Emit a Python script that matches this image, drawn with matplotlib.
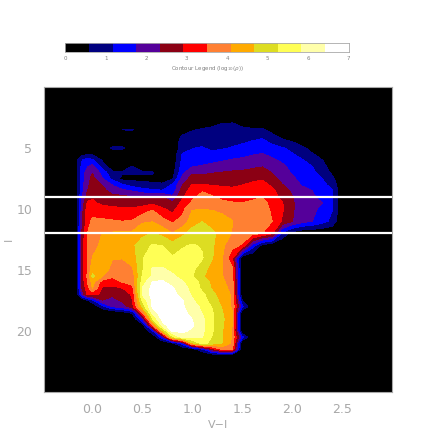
import matplotlib
matplotlib.use("Agg")
import matplotlib.pyplot as plt
import numpy as np
from matplotlib.colors import BoundaryNorm, ListedColormap

BAND_COLORS = ["#000000", "#00007f", "#0000ff", "#55009a", "#8b0014", "#ff0000",
               "#ff8033", "#ffaa00", "#dddd22", "#ffff55", "#ffffaa", "#ffffff"]
LEGEND_TICKS = [0, 1, 2, 3, 4, 5, 6, 7]
X_TICKS = [0.0, 0.5, 1.0, 1.5, 2.0, 2.5]
Y_TICKS = [5, 10, 15, 20]
CUT_LINES = [9, 12]
GREY = "#a8a8a8"

# V-I 格子（左端のみ細かい）
color_vi = [-0.2, -0.15, -0.1, -0.05, 0.0, 0.1, 0.2, 0.3, 0.4, 0.5, 0.6, 0.7, 0.8, 0.9, 1.0,
            1.1, 1.2, 1.3, 1.4, 1.5, 1.6, 1.7, 1.8, 1.9, 2.0, 2.1, 2.2, 2.3, 2.4, 2.5]
mag_i = [2.5, 3, 3.5, 4, 4.5, 5, 5.5, 6, 6.5, 7, 7.5, 8, 8.5, 9, 9.5, 10, 11, 12, 13, 14, 15, 15.5,
         16, 16.5, 17, 17.5, 18, 18.5, 19, 19.5, 20, 20.5, 21, 21.5, 22]
# log10(rho) 各行は左から、足りない右側は 0
log_rho = [
    [0],
    [0, 0, 0, 0, 0, 0, 0, 0, 0, 0, 0, 0, 0, 0, 0, 0, .4, .6, .65, .3],
    [0, 0, 0, 0, 0, 0, 0, .6, .65, 0, 0, 0, 0, 0, .5, .7, .75, .8, .9, .8, .75, .7, .3],
    [0, 0, 0, 0, 0, 0, 0, 0, 0, 0, 0, 0, 0, .65, .9, .9, .8, .85, .9, .95, 1.0, 1.05, .75, .3],
    [0, 0, 0, 0, 0, 0, 0, 0, 0, 0, 0, 0, .2, .8, 1.0, 1.05, .95, 1.0, 1.05, 1.1, 1.2, 1.3, 1.05, .85, .6, .2],
    [0, 0, 0, 0, 0, 0, .7, .7, 0, 0, 0, 0, 0, .9, 1.15, 1.2, 1.05, 1.1, 1.2, 1.3, 1.4, 1.5, 1.35, 1.2, 1.05, .75, .3],
    [0, 0, .4, .5, .5, .2, 0, 0, 0, 0, 0, 0, .1, 1.2, 1.25, 1.25, 1.3, 1.4, 1.5, 1.6, 1.7, 1.78, 1.6, 1.45, 1.2, 1.0, .65, .3],
    [0, .6, 1.2, 1.4, 1.3, .5, 0, 0, 0, 0, 0, 0, .1, 1.3, 1.4, 1.5, 1.6, 1.7, 1.8, 1.85, 1.95, 2.05, 1.85, 1.65, 1.4, 1.2, .95, .6, .2],
    [0, .6, 1.4, 1.7, 1.9, .9, .2, 0, .6, 0, 0, 0, .2, 1.4, 1.7, 1.8, 1.9, 2.0, 2.1, 2.1, 2.2, 2.3, 2.1, 1.85, 1.6, 1.3, 1.17, .8, .3],
    [0, .6, 1.5, 2.0, 2.3, 1.5, .7, .7, .7, .7, .65, .1, .3, 1.6, 2.2, 2.2, 2.3, 2.35, 2.4, 2.45, 2.55, 2.6, 2.3, 1.95, 1.7, 1.45, 1.25, 1.0, .45],
    [0, .6, 1.5, 2.1, 2.5, 1.75, 1.0, .35, .4, .35, .4, .2, .5, 1.9, 2.6, 2.55, 2.55, 2.6, 2.65, 2.7, 2.8, 2.85, 2.55, 2.1, 1.85, 1.55, 1.4, 1.17, .75],
    [0, .6, 1.6, 2.2, 2.6, 2.3, 1.7, 1.2, .9, .8, .7, .7, 1.2, 2.3, 2.95, 2.95, 2.85, 2.85, 2.85, 2.9, 3.0, 3.1, 2.8, 2.35, 2.0, 1.7, 1.5, 1.3, 1.0],
    [0, .6, 1.6, 2.3, 2.7, 2.5, 2.1, 1.9, 1.7, 1.4, 1.3, 1.2, 1.3, 2.6, 3.2, 3.45, 3.25, 3.1, 3.0, 3.05, 3.15, 3.3, 3.05, 2.6, 2.25, 1.9, 1.75, 1.5, 1.2, .1],
    [0, .6, 1.8, 2.6, 2.85, 2.7, 2.5, 2.45, 2.35, 2.35, 2.35, 2.33, 1.9, 2.8, 3.35, 3.7, 3.55, 3.3, 3.2, 3.2, 3.35, 3.5, 3.15, 2.75, 2.35, 2.0, 1.85, 1.55, 1.2, .1],
    [0, .6, 2.0, 3.0, 3.0, 2.8, 2.7, 2.65, 2.6, 2.7, 2.75, 2.6, 2.4, 3.1, 3.6, 3.85, 3.75, 3.65, 3.55, 3.5, 3.6, 3.7, 3.3, 2.95, 2.4, 2.05, 1.85, 1.75, 1.2, .1],
    [0, .6, 2.2, 3.2, 3.25, 3.1, 3.05, 3.0, 3.0, 3.1, 3.45, 3.0, 2.7, 3.3, 4.05, 4.05, 4.05, 4.0, 3.85, 3.8, 3.8, 3.75, 3.4, 3.0, 2.4, 2.05, 1.85, 1.65, 1.2, .1],
    [0, .6, 2.3, 3.3, 3.6, 3.6, 3.55, 3.5, 3.55, 4.0, 4.05, 3.7, 3.4, 3.7, 4.4, 4.65, 4.4, 4.2, 4.1, 3.85, 3.8, 3.7, 3.5, 2.85, 2.35, 2.0, 1.75, 1.4, 1.0],
    [0, .6, 2.6, 3.5, 3.7, 4.1, 4.15, 4.2, 4.2, 4.5, 4.7, 4.5, 4.1, 4.5, 4.9, 5.0, 4.8, 4.4, 4.05, 3.9, 3.75, 3.5, 3.0, 1.0, .3],
    [0, .6, 2.7, 3.55, 3.9, 4.2, 4.3, 4.35, 4.55, 5.0, 5.3, 5.25, 4.9, 5.2, 5.3, 5.2, 4.75, 4.2, 3.7, 3.4, 1.5, .3],
    [0, .6, 2.7, 3.5, 4.1, 4.15, 4.1, 4.1, 4.3, 5.2, 5.55, 5.4, 5.3, 5.4, 5.35, 5.3, 4.7, 4.1, 3.0, .1],
    [0, .6, 2.7, 3.5, 4.5, 4.2, 4.0, 3.9, 4.0, 5.2, 5.9, 5.95, 5.7, 5.5, 5.35, 4.9, 4.4, 4.1, 3.7, 0],
    [0, .6, 2.7, 3.6, 4.8, 4.1, 3.6, 3.6, 3.8, 5.3, 5.9, 6.2, 5.95, 5.6, 5.3, 4.75, 4.3, 4.1, 3.7, 0],
    [0, .6, 2.6, 3.5, 4.3, 3.2, 3.1, 3.5, 3.7, 5.5, 6.45, 6.5, 6.2, 5.9, 5.5, 5.1, 4.5, 4.2, 3.8, 0],
    [0, .6, 2.5, 3.2, 4.1, 2.8, 2.8, 2.9, 3.3, 5.85, 6.6, 6.65, 6.5, 6.0, 5.7, 5.1, 4.6, 4.3, 3.9, 0],
    [0, .5, 2.0, 3.0, 3.1, 2.8, 2.4, 2.5, 3.0, 5.9, 6.6, 6.8, 6.6, 6.2, 5.75, 5.4, 4.8, 4.4, 4.0, 0],
    [0, 0, 0, .5, 1.0, 2.3, 2.2, 2.4, 2.9, 5.3, 6.5, 6.8, 6.7, 6.45, 5.9, 5.5, 5.0, 4.45, 4.0, .6],
    [0, 0, 0, 0, 0, .9, 1.8, 2.0, 2.7, 4.8, 6.5, 6.8, 6.8, 6.5, 6.1, 5.7, 5.2, 4.6, 4.0, 1.3],
    [0, 0, 0, 0, 0, 0, 0, .3, .7, 3.5, 6.0, 6.8, 6.85, 6.6, 6.2, 5.8, 5.3, 4.7, 4.1, 0],
    [0, 0, 0, 0, 0, 0, 0, 0, 0, 1.8, 5.2, 6.6, 6.85, 6.8, 6.4, 5.95, 5.3, 4.8, 4.1, 0],
    [0, 0, 0, 0, 0, 0, 0, 0, 0, .3, 3.5, 6.2, 6.8, 6.75, 6.5, 5.95, 5.3, 4.75, 4.1, 0],
    [0, 0, 0, 0, 0, 0, 0, 0, 0, 0, 1.0, 4.5, 6.5, 6.55, 6.3, 5.95, 5.3, 4.7, 4.0, 0],
    [0, 0, 0, 0, 0, 0, 0, 0, 0, 0, 0, 1.5, 5.0, 6.0, 6.0, 5.85, 5.2, 4.7, 4.0, 1.3],
    [0, 0, 0, 0, 0, 0, 0, 0, 0, 0, 0, 0, .4, 1.5, 4.5, 5.5, 5.0, 4.65, 4.0, 0],
    [0, 0, 0, 0, 0, 0, 0, 0, 0, 0, 0, 0, 0, 0, .2, 1.0, 2.5, 3.6, 3.5, 0],
    [0],
]

grid = np.array([row + [0] * (len(color_vi) - len(row)) for row in log_rho], dtype=float)
levels = np.linspace(0, 7, len(BAND_COLORS) + 1)
cmap = ListedColormap(BAND_COLORS)
norm = BoundaryNorm(levels, cmap.N)

W = 436.0
fig = plt.figure(figsize=(4.36, 4.36), dpi=100)

ax = fig.add_axes([43.5 / W, 1 - 392 / W, 348.5 / W, 305 / W], facecolor="black")
ax.contourf(color_vi, mag_i, grid, levels=levels, colors=BAND_COLORS)
for y in CUT_LINES:
    ax.axhline(y, color="white", lw=1.6)
ax.set_xlim(-0.49, 3.0)
ax.set_ylim(25, 0)
ax.set_xticks(X_TICKS, [f"{v:.1f}" for v in X_TICKS])
ax.set_yticks(Y_TICKS)
ax.tick_params(length=0, colors=GREY, labelsize=9, pad=8)
ax.set_xlabel("V\u2212I", color=GREY, fontsize=8, labelpad=3)
ax.set_ylabel("I", color=GREY, fontsize=8)
ax.yaxis.set_label_coords(-0.085, 0.5)
for spine in ax.spines.values():
    spine.set_color(GREY)
    spine.set_linewidth(0.8)

cax = fig.add_axes([65.3 / W, 1 - 52.3 / W, 283.4 / W, 9 / W])
cax.pcolormesh(levels, [0, 1], np.array([(levels[:-1] + levels[1:]) / 2]), cmap=cmap, norm=norm)
cax.set_xlim(0, 7)
cax.set_yticks([])
cax.set_xticks(LEGEND_TICKS)
cax.tick_params(length=0, colors="#808080", labelsize=4, pad=3)
cax.set_xlabel(r"Contour Legend (log$_{10}$($\rho$))", color="#808080", fontsize=4, labelpad=1.5)
for spine in cax.spines.values():
    spine.set_color(GREY)
    spine.set_linewidth(0.6)

fig.savefig("out.png", dpi=100, facecolor="white")
